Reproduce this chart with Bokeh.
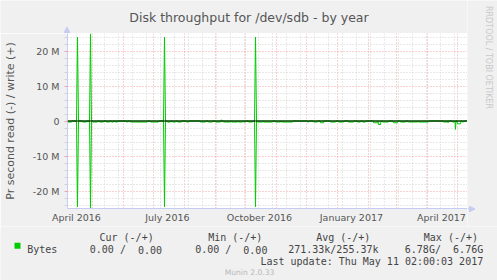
import numpy as np
import pandas as pd
from bokeh.plotting import figure
from bokeh.layouts import column, row
from bokeh.models import (Range1d, FixedTicker, DatetimeTickFormatter, Label, Span,
                          BoxAnnotation, Arrow, NormalHead)
from bokeh.embed import file_html
from bokeh.resources import INLINE

# ---------------- data ----------------
title_text = "Disk throughput for /dev/sdb - by year"
y_axis_label = "Pr second read (-) / write (+)"
watermark = "RRDTOOL / TOBI OETIKER"
series_name = "Bytes"
version_text = "Munin 2.0.33"
last_update = "Last update: Thu May 11 02:00:03 2017"
range_start = "2016-04-06 02:00"
range_end = "2017-05-11 02:00"

y_tick_values = [-20000000, -10000000, 0, 10000000, 20000000]
y_tick_labels = ["-20 M", "-10 M", "0", "10 M", "20 M"]
x_tick_dates = ["2016-04-15", "2016-07-15", "2016-10-15", "2017-01-15", "2017-04-15"]
x_tick_labels = ["April 2016", "July 2016", "October 2016", "January 2017", "April 2017"]

legend_headers = ["Cur (-/+)", "Min (-/+)", "Avg (-/+)", "Max (-/+)"]
legend_read = ["0.00", "0.00", "271.33k", "6.78G"]
legend_write = ["0.00", "0.00", "255.37k", "6.76G"]

# write (+): day offsets from range_start, MB/s
write_day = [0, 9, 10, 11, 22, 23, 24, 96, 97, 98, 153, 154, 155, 187, 188, 189, 400]
write_mb = [0.0, 0.0, 24.0, 0.0, 0.0, 24.9, 0.0, 0.0, 24.0, 0.0,
            0.0, 0.35, 0.0, 0.0, 24.0, 0.0, 0.0]

# read (-): spikes
read_spike_day = [10, 23, 97, 188]
read_spike_mb = [24.5, 24.9, 24.5, 24.5]
# read (-): low level activity periods (start day, end day, MB/s)
read_seg_start = [0, 15, 25, 32, 39, 44, 48, 59, 63, 83, 100, 105, 110, 119, 133, 141,
                  148, 156, 164, 171, 176, 181, 190, 196, 208, 214, 233, 240, 246, 253,
                  263, 271, 281, 290, 295, 306, 311, 315, 326, 333, 341, 351, 376, 380,
                  385, 388, 390, 395]
read_seg_end = [4, 19, 30, 36, 42, 46, 50, 60, 80, 91, 103, 108, 114, 121, 138, 145,
                153, 163, 170, 175, 178, 185, 195, 205, 213, 225, 233, 241, 250, 256,
                268, 276, 286, 293, 298, 310, 313, 321, 330, 338, 350, 361, 379, 381,
                387, 388, 393, 396]
read_seg_mb = [0.3, 0.3, 0.3, 0.3, 0.3, 0.3, 0.3, 0.3, 0.3, 0.3, 0.3, 0.3, 0.3, 0.3, 0.3, 0.3,
               0.3, 0.3, 0.3, 0.3, 0.3, 0.3, 0.3, 0.3, 0.3, 0.3, 0.3, 0.3, 0.3, 0.5,
               0.3, 0.3, 0.3, 0.3, 0.3, 0.5, 1.0, 0.3, 0.5, 0.3, 0.3, 0.3, 0.3, 0.4,
               0.3, 2.4, 0.8, 0.3]

# ---------------- build series ----------------
t0 = pd.Timestamp(range_start)
t1 = pd.Timestamp(range_end)
day = pd.Timedelta(days=1)
ms = lambda t: pd.Timestamp(t).value / 1e6

write_x = [t0 + d * day for d in write_day]
write_y = [v * 1e6 for v in write_mb]

pts = []
for s, e, v in zip(read_seg_start, read_seg_end, read_seg_mb):
    pts += [(s - 0.5, 0.0), (s, v), (e, v), (e + 0.5, 0.0)]
for d, v in zip(read_spike_day, read_spike_mb):
    pts += [(d - 1, 0.0), (d, v), (d + 1, 0.0)]
pts.append((400, 0.0))
pts.sort(key=lambda q: q[0])
read_x = [t0 + d * day for d, _ in pts]
read_y = [-v * 1e6 for _, v in pts]

# ---------------- styles / layout geometry (canvas px) ----------------
W, H = 497, 280
FL, FT, FW, FH = 67, 33, 400, 175      # chart frame
FB = FT + FH                            # 208
LEG_TOP = 226                           # legend strip starts here
BG = "#f0f0f0"
AXIS = "#c5cbf3"
RED = "#f3a3a3"
GREY = "#d2d2d2"
GREEN = "#00cc00"
TXT = "#555555"
LEG = "#444444"
MONO = "DejaVu Sans Mono"
SANS = "DejaVu Sans"


def strip(w, h, x0, y0):
    """A plain figure whose data coordinates equal canvas pixels."""
    f = figure(width=w, height=h, toolbar_location=None, output_backend="svg",
               title=None, x_axis_location=None, y_axis_location=None, min_border=0,
               x_range=Range1d(x0, x0 + w), y_range=Range1d(y0 + h, y0))
    f.frame_align = False
    f.border_fill_color = BG
    f.background_fill_color = BG
    f.outline_line_color = None
    f.grid.visible = False
    return f


def lab(f, cx, cy, text, size, color=LEG, font=MONO, align="left",
        baseline="alphabetic", angle=0.0):
    f.add_layout(Label(x=cx, y=cy, text=text, text_font_size=size, text_color=color,
                       text_font=font, text_align=align, text_baseline=baseline,
                       angle=float(angle)))


# ---------------- title strip (top) ----------------
top = strip(FL + FW, FT, 0, 0)
lab(top, 248.5, 17.4, title_text, "12.5px", color=TXT, font=SANS, align="center")
top.add_layout(Arrow(end=NormalHead(size=5.5, fill_color=AXIS, line_color=AXIS),
                     x_start=66.5, y_start=FT, x_end=66.5, y_end=26.5,
                     line_color=AXIS, line_width=1))

# ---------------- watermark strip (right) ----------------
side = strip(W - FL - FW, LEG_TOP, FL + FW, 0)
lab(side, 488.3, 57, watermark, "8px", color="#c8c8c8", font=SANS, align="center",
    baseline="middle", angle=-np.pi / 2)
side.add_layout(Arrow(end=NormalHead(size=5.5, fill_color=AXIS, line_color=AXIS),
                      x_start=FL + FW, y_start=FB + 0.5, x_end=474.5, y_end=FB + 0.5,
                      line_color=AXIS, line_width=1))

# ---------------- main chart ----------------
p = figure(width=FL + FW, height=LEG_TOP - FT, x_axis_type="datetime", title=None,
           toolbar_location=None, output_backend="svg",
           min_border_left=FL, min_border_right=0, min_border_top=0,
           min_border_bottom=LEG_TOP - FB,
           x_range=Range1d(t0, t1), y_range=Range1d(-25e6, 25e6))
p.frame_align = False
p.border_fill_color = BG
p.background_fill_color = "white"
p.outline_line_color = None

month_starts = [ms(t) for t in pd.date_range("2016-05-01", "2017-05-01", freq="MS")]
biweekly = [ms(t) for t in pd.date_range("2016-04-15 09:00", "2017-05-10", freq="14D")]

p.xgrid.ticker = FixedTicker(ticks=month_starts, minor_ticks=biweekly)
p.xgrid.grid_line_color = RED
p.xgrid.grid_line_dash = "1 2"
p.xgrid.minor_grid_line_color = GREY
p.xgrid.minor_grid_line_dash = "1 2"

y_minor = [v * 1e6 for v in range(-24, 25, 2) if v % 10 != 0]
p.ygrid.ticker = FixedTicker(ticks=y_tick_values, minor_ticks=y_minor)
p.ygrid.grid_line_color = RED
p.ygrid.grid_line_dash = "1 2"
p.ygrid.minor_grid_line_color = GREY
p.ygrid.minor_grid_line_dash = "1 2"

fmt = "%B %Y"
p.xaxis.ticker = FixedTicker(ticks=[ms(d) for d in x_tick_dates], minor_ticks=[])
p.xaxis.formatter = DatetimeTickFormatter(microseconds=fmt, milliseconds=fmt, seconds=fmt,
                                          minsec=fmt, minutes=fmt, hourmin=fmt, hours=fmt,
                                          days=fmt, months=fmt, years=fmt)
p.xaxis.major_tick_out = 0
p.xaxis.major_tick_in = 0
p.xaxis.major_label_standoff = 3
p.xaxis.axis_line_color = AXIS
p.xaxis.major_label_text_font = SANS
p.xaxis.major_label_text_font_size = "9.5px"
p.xaxis.major_label_text_color = TXT

p.yaxis.ticker = FixedTicker(ticks=y_tick_values, minor_ticks=y_minor)
p.yaxis.major_label_overrides = {v: s for v, s in zip(y_tick_values, y_tick_labels)}
p.yaxis.major_tick_out = 3
p.yaxis.major_tick_in = 0
p.yaxis.minor_tick_out = 3
p.yaxis.minor_tick_in = 0
p.yaxis.major_tick_line_color = RED
p.yaxis.minor_tick_line_color = GREY
p.yaxis.major_label_standoff = 5
p.yaxis.axis_line_color = AXIS
p.yaxis.major_label_text_font = SANS
p.yaxis.major_label_text_font_size = "9.5px"
p.yaxis.major_label_text_color = TXT
p.yaxis.axis_label = y_axis_label
p.yaxis.axis_label_text_font = SANS
p.yaxis.axis_label_text_font_size = "11px"
p.yaxis.axis_label_text_font_style = "normal"
p.yaxis.axis_label_text_color = TXT
p.yaxis.axis_label_standoff = 13

p.line(write_x, write_y, line_color=GREEN, line_width=1)
p.line(read_x, read_y, line_color=GREEN, line_width=1)
p.add_layout(Span(location=0, dimension="width", line_color="black", line_width=1))

# ---------------- legend strip (bottom) ----------------
leg = strip(W, H - LEG_TOP, 0, LEG_TOP)
header_x = [99, 207.7, 315.7, 423.3]
left_x = [89.3, 194.7, 287.7, 404.3]
right_x = [161.5, 266.9, 378.0, 482.7]
for hx, h in zip(header_x, legend_headers):
    lab(leg, hx, 236.5, h, "10px")
lab(leg, 26.7, 249.3, series_name, "10px")
for lx, rx, r, w in zip(left_x, right_x, legend_read, legend_write):
    sep = " /" if r[-1].isdigit() else "/"
    lab(leg, lx, 249.3, r + sep, "10px")
    lab(leg, rx, 249.3, w, "10px", align="right")
lab(leg, 482.7, 260.5, last_update, "10px", align="right")
lab(leg, 249, 272, version_text, "7.6px", color="#b8b8b8", font=SANS, align="center")
leg.add_layout(BoxAnnotation(left=14, right=20, top=242.3, bottom=248.3,
                             fill_color=GREEN, fill_alpha=1.0, line_color=None))

layout = column(row(column(top, p, spacing=0), side, spacing=0), leg, spacing=0)
open("out.html", "w").write(file_html(layout, INLINE))
